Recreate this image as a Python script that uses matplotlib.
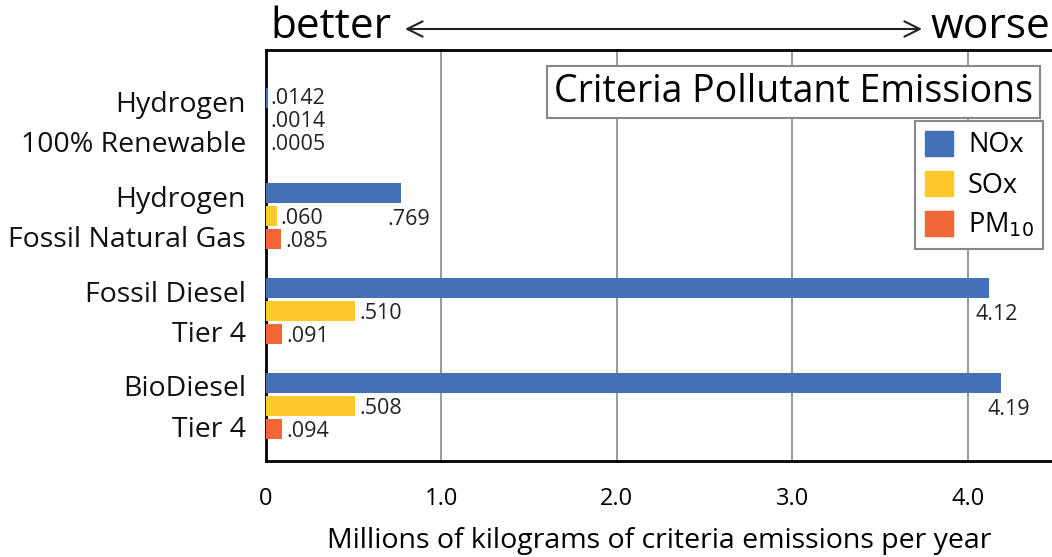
import matplotlib.pyplot as plt
from matplotlib.patches import Patch
from matplotlib.transforms import offset_copy
import numpy as np

plt.rcParams['font.family'] = ['Open Sans', 'DejaVu Sans']

# emissions data (millions of kg per year)
categories = ['Hydrogen\n100% Renewable', 'Hydrogen\nFossil Natural Gas',
              'Fossil Diesel\nTier 4', 'BioDiesel\nTier 4']
nox = [0.0142, 0.769, 4.12, 4.19]
sox = [0.0014, 0.060, 0.510, 0.508]
pm10 = [0.0005, 0.085, 0.091, 0.094]
nox_lbl = ['.0142', '.769', '4.12', '4.19']
sox_lbl = ['.0014', '.060', '.510', '.508']
pm_lbl = ['.0005', '.085', '.091', '.094']
xticks = [0, 1.0, 2.0, 3.0, 4.0]
xtick_lbl = ['0', '1.0', '2.0', '3.0', '4.0']

c_nox = '#4470b8'
c_sox = '#ffc92b'
c_pm = '#f26535'

fig = plt.figure(figsize=(10.52, 5.57), dpi=100)
ax = fig.add_axes([266/1052, 1 - 461/557, 1 - 266/1052, 411/557])

y = np.arange(len(categories))
off = 0.242
h = 0.21

ax.barh(y - off, nox, height=h, color=c_nox, zorder=3)
ax.barh(y, sox, height=h, color=c_sox, zorder=3)
ax.barh(y + off, pm10, height=h, color=c_pm, zorder=3)

ax.set_xlim(0, 4.48)
ax.set_ylim(3.58, -0.75)

vfs = 15.5
# value labels
for i in range(len(categories)):
    if i == 0:
        # all three too small to see, stack labels at the axis
        for dy, t in zip([-off, 0, off], [nox_lbl[i], sox_lbl[i], pm_lbl[i]]):
            ax.text(0, i + dy, t, transform=offset_copy(ax.transData, fig, x=4, units='dots'),
                    ha='left', va='center', fontsize=vfs, color='#222222')
        continue
    ax.text(nox[i], i + 0.04, nox_lbl[i],
            transform=offset_copy(ax.transData, fig, x=8, units='dots'),
            ha='center', va='center', fontsize=vfs, color='#222222')
    ax.text(sox[i], i + 0.03, sox_lbl[i],
            transform=offset_copy(ax.transData, fig, x=4, units='dots'),
            ha='left', va='center', fontsize=vfs, color='#222222')
    ax.text(pm10[i], i + off + 0.03, pm_lbl[i],
            transform=offset_copy(ax.transData, fig, x=4, units='dots'),
            ha='left', va='center', fontsize=vfs, color='#222222')

# category labels
for i, c in enumerate(categories):
    ax.text(0, i + 0.04, c, transform=offset_copy(ax.transData, fig, x=-20, units='dots'),
            ha='right', va='center', fontsize=20.5, linespacing=1.6, color='#111111')

ax.set_yticks([])
ax.set_xticks(xticks)
ax.set_xticklabels(xtick_lbl, fontsize=17)
ax.tick_params(axis='x', length=0, pad=19)
ax.set_xlabel('Millions of kilograms of criteria emissions per year', fontsize=20.5, labelpad=11)
ax.xaxis.grid(True, color='#888888', linewidth=1.2, zorder=0)

for s in ['left', 'bottom', 'top']:
    ax.spines[s].set_linewidth(2)
    ax.spines[s].set_color('black')
ax.spines['right'].set_visible(False)

# title box
ax.text(0.976, 0.898, 'Criteria Pollutant Emissions', transform=ax.transAxes,
        ha='right', va='center', fontsize=27, zorder=5,
        bbox=dict(boxstyle='square,pad=0.18', fc='white', ec='#888888', lw=1.5))

handles = [Patch(color=c_nox, label='NOx'), Patch(color=c_sox, label='SOx'),
           Patch(color=c_pm, label='PM$_{10}$')]
leg = ax.legend(handles=handles, loc='upper right', bbox_to_anchor=(0.989, 0.827),
                fontsize=19.5, fancybox=False, edgecolor='#888888', framealpha=1,
                handlelength=1.05, handleheight=1.05, borderpad=0.35, labelspacing=0.42,
                handletextpad=0.55, borderaxespad=0)
leg.get_frame().set_linewidth(1.5)
leg.set_zorder(6)

# better / worse header
fig.text(270/1052, 1 - 27/557, 'better', fontsize=30.5, ha='left', va='center')
fig.text(1050/1052, 1 - 27/557, 'worse', fontsize=30.5, ha='right', va='center')
ax.annotate('', xy=(922/1052, 1 - 29/557), xytext=(405/1052, 1 - 29/557),
            xycoords='figure fraction', textcoords='figure fraction',
            arrowprops=dict(arrowstyle='<->,head_length=1.1,head_width=0.55', lw=1.5,
                            color='#222222', shrinkA=0, shrinkB=0))

fig.savefig('out.png', dpi=100)
